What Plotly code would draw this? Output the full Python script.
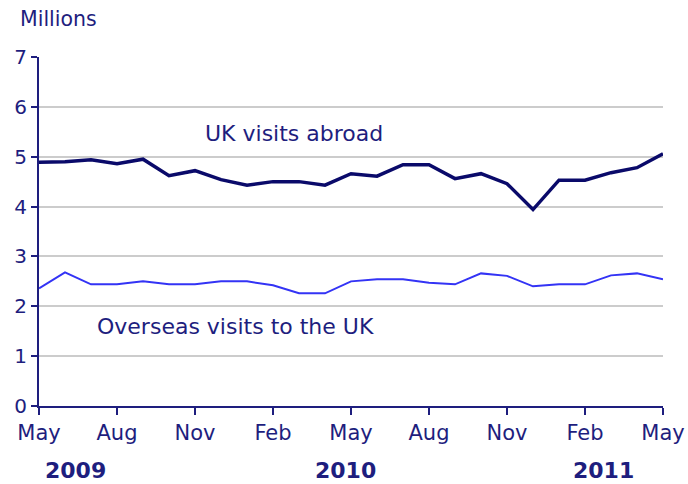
import plotly.graph_objects as go

# Monthly passenger visits, May 2009 to May 2011 (millions)
months = [
    "May 2009", "Jun 2009", "Jul 2009", "Aug 2009", "Sep 2009", "Oct 2009",
    "Nov 2009", "Dec 2009", "Jan 2010", "Feb 2010", "Mar 2010", "Apr 2010",
    "May 2010", "Jun 2010", "Jul 2010", "Aug 2010", "Sep 2010", "Oct 2010",
    "Nov 2010", "Dec 2010", "Jan 2011", "Feb 2011", "Mar 2011", "Apr 2011",
    "May 2011",
]
uk_visits_abroad = [
    4.89, 4.90, 4.94, 4.86, 4.95, 4.62, 4.72, 4.54, 4.43, 4.50, 4.50, 4.43,
    4.66, 4.61, 4.84, 4.84, 4.56, 4.66, 4.46, 3.94, 4.53, 4.53, 4.68, 4.78,
    5.06,
]
overseas_visits_to_uk = [
    2.36, 2.68, 2.44, 2.44, 2.50, 2.44, 2.44, 2.50, 2.50, 2.42, 2.26, 2.26,
    2.50, 2.54, 2.54, 2.47, 2.44, 2.66, 2.61, 2.40, 2.44, 2.44, 2.62, 2.66,
    2.54,
]
tick_months = ["May 2009", "Aug 2009", "Nov 2009", "Feb 2010", "May 2010",
               "Aug 2010", "Nov 2010", "Feb 2011", "May 2011"]
tick_labels = ["May", "Aug", "Nov", "Feb", "May", "Aug", "Nov", "Feb", "May"]
years = ["2009", "2010", "2011"]
year_positions = [1.4, 11.8, 21.7]  # in month-index units along the x axis

NAVY = "#1e1e7e"
FONT = "DejaVu Sans, Verdana, sans-serif"

fig = go.Figure()
fig.add_trace(go.Scatter(
    x=months, y=overseas_visits_to_uk, mode="lines",
    line=dict(color="#3333f5", width=2), name="Overseas visits to the UK",
))
fig.add_trace(go.Scatter(
    x=months, y=uk_visits_abroad, mode="lines",
    line=dict(color="#0a0a6a", width=3.5), name="UK visits abroad",
))

annotations = [
    dict(text="UK visits abroad", x=9.8, y=5.47, xref="x", yref="y",
         showarrow=False, font=dict(size=22, color=NAVY, family=FONT)),
    dict(text="Overseas visits to the UK", x=7.55, y=1.59, xref="x", yref="y",
         showarrow=False, font=dict(size=22, color=NAVY, family=FONT)),
    dict(text="Millions", x=-0.034, y=1.108, xref="paper", yref="paper",
         xanchor="left", yanchor="middle", showarrow=False,
         font=dict(size=20.5, color=NAVY, family=FONT)),
]
for yr, pos in zip(years, year_positions):
    # year labels sit on the bottom edge of the page, below the month ticks
    annotations.append(dict(
        text="<b>" + yr + "</b>", x=pos, y=-0.2235, xref="x", yref="paper",
        yanchor="bottom", showarrow=False, borderpad=0,
        font=dict(size=22, color=NAVY, family=FONT),
    ))

fig.update_layout(
    width=688, height=484,
    margin=dict(l=39, r=25, t=57, b=78, autoexpand=False),
    paper_bgcolor="white", plot_bgcolor="white",
    showlegend=False,
    font=dict(family=FONT, size=21, color=NAVY),
    annotations=annotations,
    xaxis=dict(
        type="category", categoryorder="array", categoryarray=months,
        range=[0, 24], tickmode="array", tickvals=tick_months,
        ticktext=tick_labels, showgrid=False, showline=True,
        linecolor=NAVY, linewidth=2, ticks="outside", ticklen=7,
        tickwidth=2, tickcolor=NAVY, zeroline=False, automargin=False,
        tickfont=dict(size=21, color=NAVY),
    ),
    yaxis=dict(
        range=[0, 7], tickmode="linear", tick0=0, dtick=1,
        showgrid=True, gridcolor="#cccccc", gridwidth=1.5,
        showline=True, linecolor=NAVY, linewidth=2, ticks="outside",
        ticklen=6, tickwidth=2, tickcolor=NAVY, zeroline=False,
        automargin=False, tickfont=dict(size=20, color=NAVY),
    ),
)

fig.write_html("out.html")
